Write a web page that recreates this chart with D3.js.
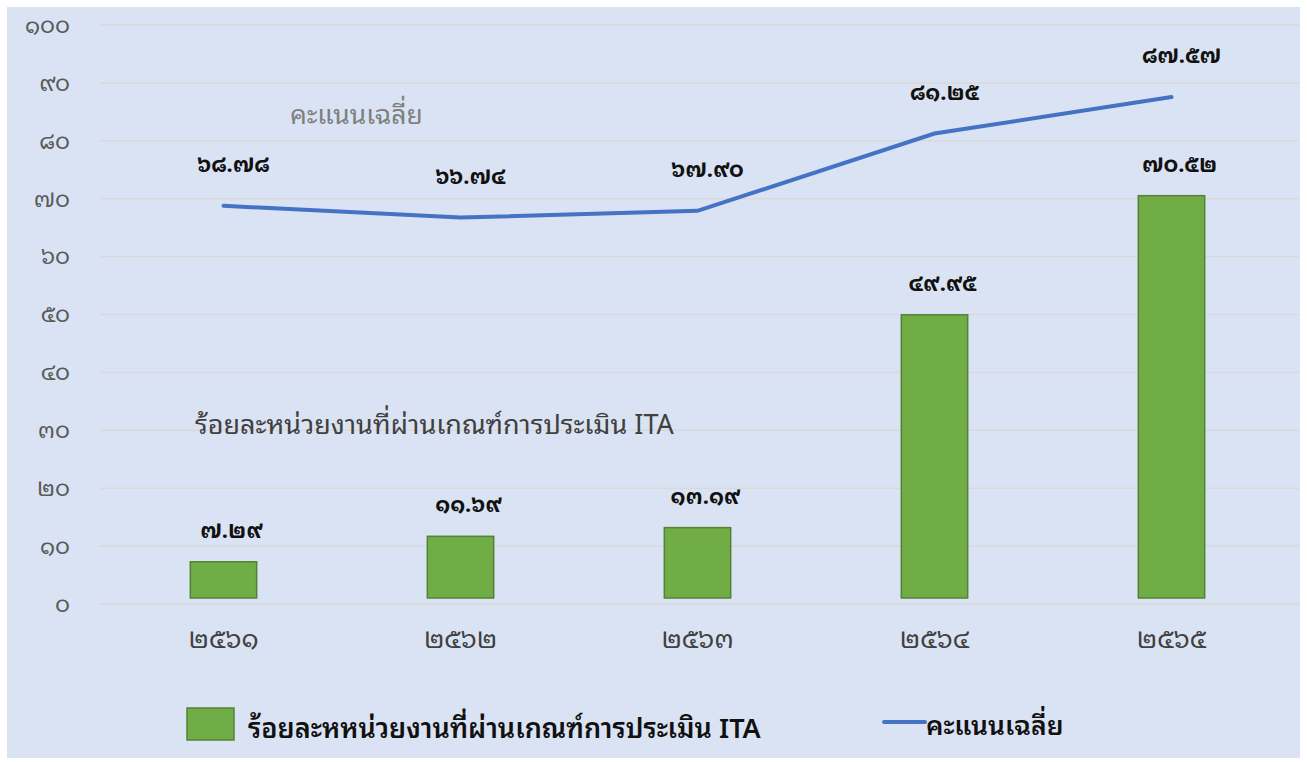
<!DOCTYPE html>
<html>
<head>
<meta charset="utf-8">
<script src="https://cdn.jsdelivr.net/npm/d3@7"></script>
<style>
  html, body { margin: 0; padding: 0; background: #ffffff; }
  svg { display: block; }
  text { font-family: "Noto Sans Thai Looped", "Noto Sans Thai", sans-serif; }
</style>
</head>
<body>
<svg id="chart" width="1307" height="762"></svg>
<script>
// ---- data ----
const categories = ["๒๕๖๑", "๒๕๖๒", "๒๕๖๓", "๒๕๖๔", "๒๕๖๕"];
const barValues = [7.29, 11.69, 13.19, 49.95, 70.52];
const lineValues = [68.78, 66.74, 67.90, 81.25, 87.57];
const yTickValues = [0, 10, 20, 30, 40, 50, 60, 70, 80, 90, 100];
const yTickLabels = ["๐", "๑๐", "๒๐", "๓๐", "๔๐", "๕๐", "๖๐", "๗๐", "๘๐", "๙๐", "๑๐๐"];
const barSeriesName = "ร้อยละหหน่วยงานที่ผ่านเกณฑ์การประเมิน ITA";
const lineSeriesName = "คะแนนเฉลี่ย";
const barNote = "ร้อยละหน่วยงานที่ผ่านเกณฑ์การประเมิน ITA";
const lineNote = "คะแนนเฉลี่ย";

const thaiDigits = "๐๑๒๓๔๕๖๗๘๙";
const toThai = s => String(s).replace(/[0-9]/g, d => thaiDigits[+d]);

// ---- layout ----
const svg = d3.select("#chart");
svg.append("rect").attr("x", 7).attr("y", 7).attr("width", 1293).attr("height", 751).attr("fill", "#dae3f3");

const x = d3.scaleBand().domain(categories).range([105, 1290]).paddingInner(0.72).paddingOuter(0.36);
const y = d3.scaleLinear().domain([0, 100]).range([604, 25]);

// gridlines
svg.append("g").selectAll("line").data(yTickValues).join("line")
  .attr("x1", 100).attr("x2", 1299)
  .attr("y1", d => y(d)).attr("y2", d => y(d))
  .attr("stroke", "#d9d9d9").attr("stroke-width", 1.5);

// y axis labels
const yAxis = d3.axisLeft(y).tickValues(yTickValues).tickFormat((d, i) => yTickLabels[i]).tickSize(0).tickPadding(0);
const gy = svg.append("g").attr("transform", "translate(70,0)").call(yAxis);
gy.select(".domain").remove();
gy.selectAll("text").attr("font-size", 23).attr("fill", "#595959")
  .attr("font-family", '"Noto Sans Thai Looped", sans-serif');

// x axis labels
const xAxis = d3.axisBottom(x).tickSize(0).tickPadding(0);
const gx = svg.append("g").attr("transform", "translate(0,630)").call(xAxis);
gx.select(".domain").remove();
gx.selectAll("text").attr("font-size", 26).attr("fill", "#404040")
  .attr("font-family", '"Noto Sans Thai Looped", sans-serif');

// bars
svg.append("g").selectAll("rect").data(barValues).join("rect")
  .attr("x", (d, i) => x(categories[i]))
  .attr("width", x.bandwidth())
  .attr("y", d => y(d))
  .attr("height", d => y(0) - y(d) - 6)
  .attr("fill", "#70ad47").attr("stroke", "#548235").attr("stroke-width", 1.5);

// line
const cx = c => x(c) + x.bandwidth() / 2;
const line = d3.line().x((d, i) => cx(categories[i])).y(d => y(d));
svg.append("path").datum(lineValues).attr("d", line)
  .attr("fill", "none").attr("stroke", "#4472c4").attr("stroke-width", 4).attr("stroke-linecap", "round");

// labels
svg.append("g").selectAll("text").data(lineValues).join("text")
  .attr("x", (d, i) => cx(categories[i]) + 10)
  .attr("y", d => y(d) - 34)
  .attr("text-anchor", "middle").attr("font-size", 22).attr("font-weight", "bold").attr("fill", "#111")
  .text(d => toThai(d.toFixed(2)));

svg.append("g").selectAll("text").data(barValues).join("text")
  .attr("x", (d, i) => cx(categories[i]) + 8)
  .attr("y", d => y(d) - 24)
  .attr("text-anchor", "middle").attr("font-size", 22).attr("font-weight", "bold").attr("fill", "#111")
  .text(d => toThai(d.toFixed(2)));

// notes
svg.append("text").attr("x", 290).attr("y", 124).attr("font-size", 26.5).attr("fill", "#7f7f7f").text(lineNote);
svg.append("text").attr("x", 195).attr("y", 434).attr("font-size", 27).attr("fill", "#404040").text(barNote);

// legend
svg.append("rect").attr("x", 187).attr("y", 708).attr("width", 47).attr("height", 32)
  .attr("fill", "#70ad47").attr("stroke", "#548235").attr("stroke-width", 1.5);
svg.append("text").attr("x", 248).attr("y", 738).attr("font-size", 27).attr("font-weight", "600").attr("fill", "#111").text(barSeriesName);
svg.append("line").attr("x1", 884).attr("x2", 925).attr("y1", 722).attr("y2", 722)
  .attr("stroke", "#4472c4").attr("stroke-width", 4).attr("stroke-linecap", "round");
svg.append("text").attr("x", 926).attr("y", 735).attr("font-size", 26.5).attr("font-weight", "600").attr("fill", "#111").text(lineSeriesName);
</script>
</body>
</html>
